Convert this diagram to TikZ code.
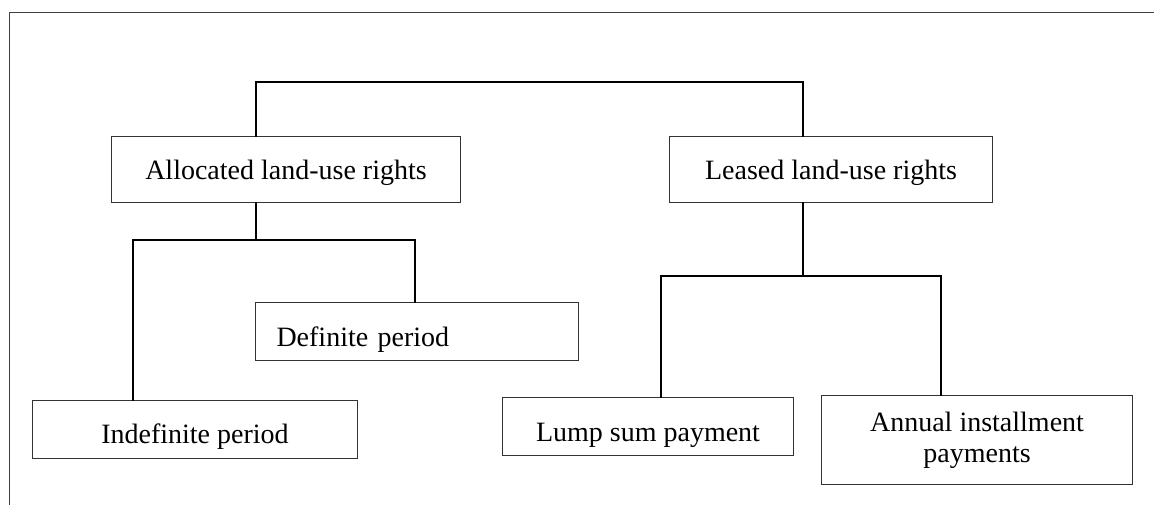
\documentclass[tikz,border=0pt]{standalone}
\usepackage{fontspec}
\setmainfont{Liberation Serif}
\begin{document}
\begin{tikzpicture}[x=1pt,y=-1pt,
  box/.style={draw=black!80, line width=1pt, anchor=north west, inner xsep=0pt, inner ysep=0pt,
    font=\fontsize{28}{31}\selectfont, align=center},
  conn/.style={draw=black, line width=1.6pt, line cap=rect},
  frame/.style={draw=black!75, line width=1pt}]
\useasboundingbox (0,0) rectangle (1154,504);
\draw[frame] (1160,12) -- (9,12) -- (9,510);
% boxes
\node[box, minimum width=349pt, text height=43pt, text depth=23pt] (alloc) at (111,136) {Allocated land-use rights};
\node[box, minimum width=323pt, text height=43pt, text depth=23pt] (leased) at (669,136) {Leased land-use rights};
\node[box, text width=281pt, inner xsep=21pt, align=left, text height=43.5pt, text depth=14.5pt] (defin) at (255,302) {Definite period};
\node[box, minimum width=325pt, text height=42.7pt, text depth=15.3pt] (indef) at (32,400) {Indefinite period};
\node[box, minimum width=291pt, text height=44pt, text depth=14.3pt] (lump) at (502,397) {Lump sum payment};
\node[box, minimum width=311pt, minimum height=89pt, inner ysep=0pt] (annual) at (821,395) {Annual installment\\payments};
% junctions
\coordinate (j1) at (256,82);
\coordinate (j2) at (803,82);
\coordinate (j3) at (256,240);
\coordinate (j4) at (133,240);
\coordinate (j5) at (415,240);
\coordinate (j6) at (803,276);
\coordinate (j7) at (661,276);
\coordinate (j8) at (941,276);
% connectors
\draw[conn] (alloc.north -| j1) -- (j1) -- (j2) -- (leased.north -| j2);
\draw[conn] (alloc.south -| j3) -- (j3);
\draw[conn] (indef.north -| j4) -- (j4) -- (j5) -- (defin.north -| j5);
\draw[conn] (leased.south -| j6) -- (j6);
\draw[conn] (lump.north -| j7) -- (j7) -- (j8) -- (annual.north -| j8);
\end{tikzpicture}
\end{document}
